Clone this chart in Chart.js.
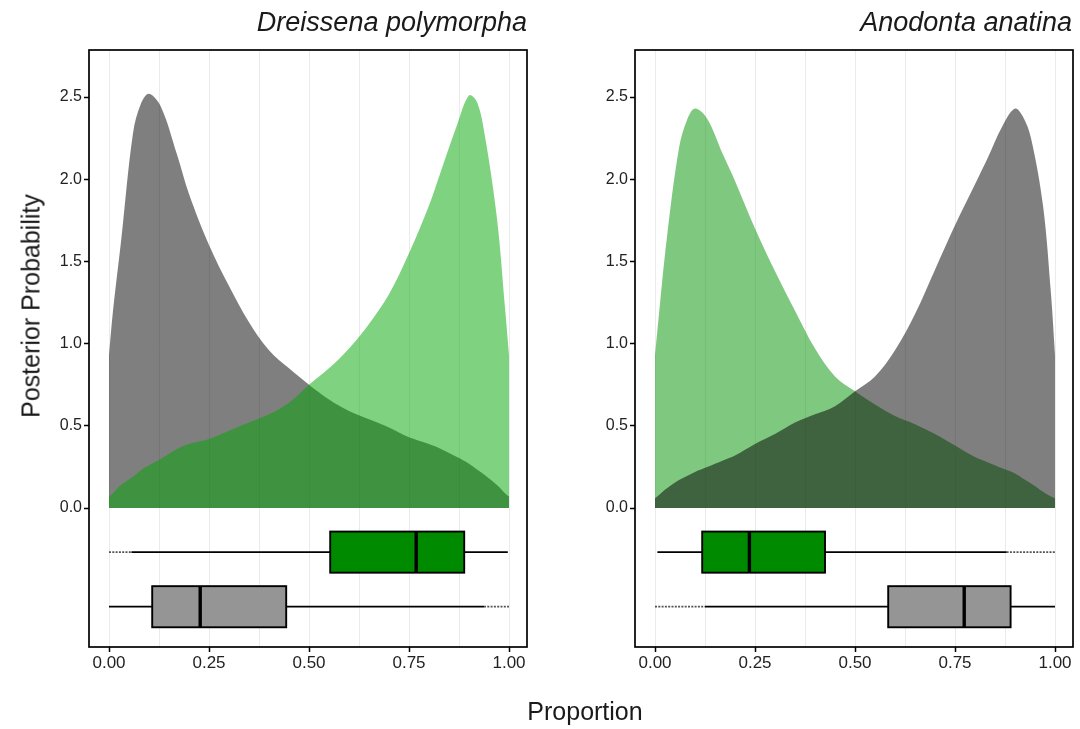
<!DOCTYPE html>
<html>
<head>
<meta charset="utf-8">
<script src="https://cdn.jsdelivr.net/npm/chart.js@4.4.1/dist/chart.umd.min.js"></script>
<style>
  html, body { margin: 0; padding: 0; background: #ffffff; }
  #wrap { position: relative; width: 1080px; height: 729px; overflow: hidden; background: #fff;
          font-family: "Liberation Sans", Arial, Helvetica, sans-serif; }
  canvas { position: absolute; top: 0; }
  .title { position: absolute; font-style: italic; font-size: 27px; line-height: 27px; color: #1a1a1a; white-space: nowrap; }
  .axt { position: absolute; font-size: 25px; line-height: 25px; color: #1a1a1a; white-space: nowrap; }
</style>
</head>
<body>
<div id="wrap">
  <canvas id="c1" width="540" height="729" style="left:0px;width:540px;height:729px"></canvas>
  <canvas id="c2" width="540" height="729" style="left:540px;width:540px;height:729px"></canvas>
  <div class="title" id="t1" style="top:9px;right:553px;">Dreissena polymorpha</div>
  <div class="title" id="t2" style="top:9px;right:8px;">Anodonta anatina</div>
  <div class="axt" style="top:699px;left:585px;transform:translateX(-50%);">Proportion</div>
  <div class="axt" style="left:31px;top:306px;transform:translate(-50%,-50%) rotate(-90deg);">Posterior Probability</div>
</div>
<script>
// ---------------- DATA ----------------
const panelTitles = ["Dreissena polymorpha", "Anodonta anatina"];
const xTickLabels = ["0.00", "0.25", "0.50", "0.75", "1.00"];
const yTickLabels = ["0.0", "0.5", "1.0", "1.5", "2.0", "2.5"];

// density evaluation points (proportion)
const proportion = [0, 0.01, 0.03, 0.06, 0.08, 0.1, 0.13, 0.17, 0.2, 0.25, 0.3, 0.35, 0.4, 0.45, 0.5,
                    0.55, 0.6, 0.65, 0.7, 0.75, 0.8, 0.83, 0.87, 0.9, 0.92, 0.94, 0.97, 0.99, 1.0];

// Dreissena polymorpha panel
const dreissenaGrey  = [0.93, 1.20, 1.62, 2.28, 2.46, 2.52, 2.44, 2.15, 1.91, 1.60, 1.35, 1.13, 0.96, 0.85, 0.75,
                        0.66, 0.59, 0.54, 0.49, 0.43, 0.39, 0.36, 0.31, 0.27, 0.235, 0.20, 0.14, 0.09, 0.07];
const dreissenaGreen = [0.07, 0.09, 0.14, 0.19, 0.23, 0.26, 0.30, 0.36, 0.39, 0.42, 0.47, 0.52, 0.57, 0.64, 0.75,
                        0.85, 0.97, 1.12, 1.30, 1.55, 1.84, 2.05, 2.33, 2.51, 2.47, 2.26, 1.76, 1.22, 0.93];

// Anodonta anatina panel
const anodontaGreen  = [0.93, 1.18, 1.65, 2.19, 2.36, 2.43, 2.37, 2.15, 1.99, 1.70, 1.44, 1.20, 0.97, 0.80, 0.71,
                        0.63, 0.56, 0.51, 0.45, 0.38, 0.31, 0.28, 0.24, 0.21, 0.18, 0.15, 0.10, 0.07, 0.06];
const anodontaGrey   = [0.06, 0.08, 0.12, 0.17, 0.195, 0.22, 0.25, 0.29, 0.32, 0.39, 0.45, 0.52, 0.57, 0.62, 0.71,
                        0.80, 0.96, 1.18, 1.45, 1.72, 1.97, 2.12, 2.33, 2.43, 2.38, 2.25, 1.84, 1.30, 0.93];

// boxplot stats: [lower whisker, Q1, median, Q3, upper whisker]
const dreissenaGreenBox = [0.056, 0.553, 0.768, 0.888, 0.997];
const dreissenaGreyBox  = [0.000, 0.108, 0.228, 0.443, 0.9375];
const anodontaGreenBox  = [0.006, 0.118, 0.236, 0.425, 0.879];
const anodontaGreyBox   = [0.125, 0.583, 0.773, 0.889, 1.000];
// span covered by the dense outlier points [from, to]
const dreissenaGreenOutliers = [0.000, 0.056];
const dreissenaGreyOutliers  = [0.9375, 1.000];
const anodontaGreenOutliers  = [0.879, 1.000];
const anodontaGreyOutliers   = [0.000, 0.125];

// ---------------- RENDERING ----------------
const xTickValues = xTickLabels.map(Number);
const yTickValues = yTickLabels.map(Number);
const xGridValues = [0, 0.125, 0.25, 0.375, 0.5, 0.625, 0.75, 0.875, 1];

const boxRowY = [-0.268, -0.600];   // vertical placement of the two box rows
const boxHalf = 0.125;

const boxPlugin = {
  id: 'boxes',
  afterDatasetsDraw(chart, args, opts) {
    const ctx = chart.ctx, xs = chart.scales.x, ys = chart.scales.y;
    ctx.save();
    opts.rows.forEach((row, i) => {
      const yc = ys.getPixelForValue(boxRowY[i]);
      const yt = ys.getPixelForValue(boxRowY[i] + boxHalf);
      const yb = ys.getPixelForValue(boxRowY[i] - boxHalf);
      const [lw, q1, md, q3, uw] = row.stats.map(v => xs.getPixelForValue(v));
      const o0 = xs.getPixelForValue(row.out[0]), o1 = xs.getPixelForValue(row.out[1]);
      ctx.strokeStyle = 'rgba(40,40,40,0.8)';
      ctx.lineWidth = 1.8;
      ctx.setLineDash([2, 1.3]);
      ctx.beginPath(); ctx.moveTo(o0, yc); ctx.lineTo(o1, yc); ctx.stroke();
      ctx.setLineDash([]);
      ctx.strokeStyle = '#000';
      ctx.lineWidth = 1.7;
      ctx.beginPath(); ctx.moveTo(lw, yc); ctx.lineTo(q1, yc); ctx.moveTo(q3, yc); ctx.lineTo(uw, yc); ctx.stroke();
      ctx.fillStyle = row.fill;
      ctx.fillRect(q1, yt, q3 - q1, yb - yt);
      ctx.lineWidth = 1.9;
      ctx.strokeRect(q1, yt, q3 - q1, yb - yt);
      ctx.lineWidth = 3.4;
      ctx.beginPath(); ctx.moveTo(md, yt); ctx.lineTo(md, yb); ctx.stroke();
    });
    ctx.restore();
  }
};

const framePlugin = {
  id: 'frame',
  afterDraw(chart) {
    const a = chart.chartArea, ctx = chart.ctx;
    ctx.save();
    ctx.strokeStyle = '#000';
    ctx.lineWidth = 1.7;
    ctx.strokeRect(a.left, a.top, a.right - a.left, a.bottom - a.top);
    ctx.restore();
  }
};

function pts(vals) { return proportion.map((x, i) => ({ x: x, y: vals[i] })); }

function makePanel(id, layers, rows, yAxisWidth, padRight) {
  const datasets = layers.map((l, i) => ({
    label: l.label,
    data: pts(l.values),
    backgroundColor: l.color,
    borderColor: 'rgba(0,0,0,0)',
    borderWidth: 0,
    pointRadius: 0,
    fill: 'origin',
    tension: 0.35,
    order: layers.length - i
  }));
  return new Chart(document.getElementById(id), {
    type: 'line',
    data: { datasets },
    options: {
      responsive: false,
      animation: false,
      devicePixelRatio: 1,
      layout: { padding: { top: 50, right: padRight, left: 0, bottom: 0 } },
      plugins: { legend: { display: false }, tooltip: { enabled: false }, boxes: { rows } },
      scales: {
        x: {
          type: 'linear', min: -0.05, max: 1.045,
          afterBuildTicks: s => { s.ticks = xGridValues.map(v => ({ value: v })); },
          afterFit: s => { s.height = 82; },
          border: { display: false },
          grid: {
            color: '#ebebeb', lineWidth: 1, drawTicks: true, tickLength: 5,
            tickColor: c => (xTickValues.some(t => Math.abs(t - c.tick.value) < 1e-9) ? '#000' : 'rgba(0,0,0,0)'),
            tickWidth: 1.5
          },
          ticks: {
            autoSkip: false, maxRotation: 0, padding: 1, color: '#222',
            font: { family: '"Liberation Sans", Arial, sans-serif', size: 17 },
            callback: v => { const k = xTickValues.findIndex(t => Math.abs(t - v) < 1e-9); return k >= 0 ? xTickLabels[k] : ''; }
          }
        },
        y: {
          type: 'linear', min: -0.845, max: 2.786,
          afterBuildTicks: s => { s.ticks = yTickValues.map(v => ({ value: v })); },
          afterFit: s => { s.width = yAxisWidth; },
          border: { display: false },
          grid: { drawOnChartArea: false, drawTicks: true, tickLength: 5, tickColor: '#000', tickWidth: 1.5 },
          ticks: {
            autoSkip: false, padding: 2, color: '#222',
            font: { family: '"Liberation Sans", Arial, sans-serif', size: 16 },
            callback: v => { const k = yTickValues.findIndex(t => Math.abs(t - v) < 1e-9); return k >= 0 ? yTickLabels[k] : ''; }
          }
        }
      }
    },
    plugins: [boxPlugin, framePlugin]
  });
}

makePanel('c1',
  [ { label: 'grey',  values: dreissenaGrey,  color: 'rgba(0,0,0,0.5)' },
    { label: 'green', values: dreissenaGreen, color: 'rgba(0,165,0,0.5)' } ],
  [ { stats: dreissenaGreenBox, out: dreissenaGreenOutliers, fill: '#008a00' },
    { stats: dreissenaGreyBox,  out: dreissenaGreyOutliers,  fill: '#959595' } ],
  89, 13);

makePanel('c2',
  [ { label: 'green', values: anodontaGreen, color: 'rgba(0,145,0,0.5)' },
    { label: 'grey',  values: anodontaGrey,  color: 'rgba(0,0,0,0.5)' } ],
  [ { stats: anodontaGreenBox, out: anodontaGreenOutliers, fill: '#008a00' },
    { stats: anodontaGreyBox,  out: anodontaGreyOutliers,  fill: '#959595' } ],
  95, 7);
</script>
</body>
</html>
